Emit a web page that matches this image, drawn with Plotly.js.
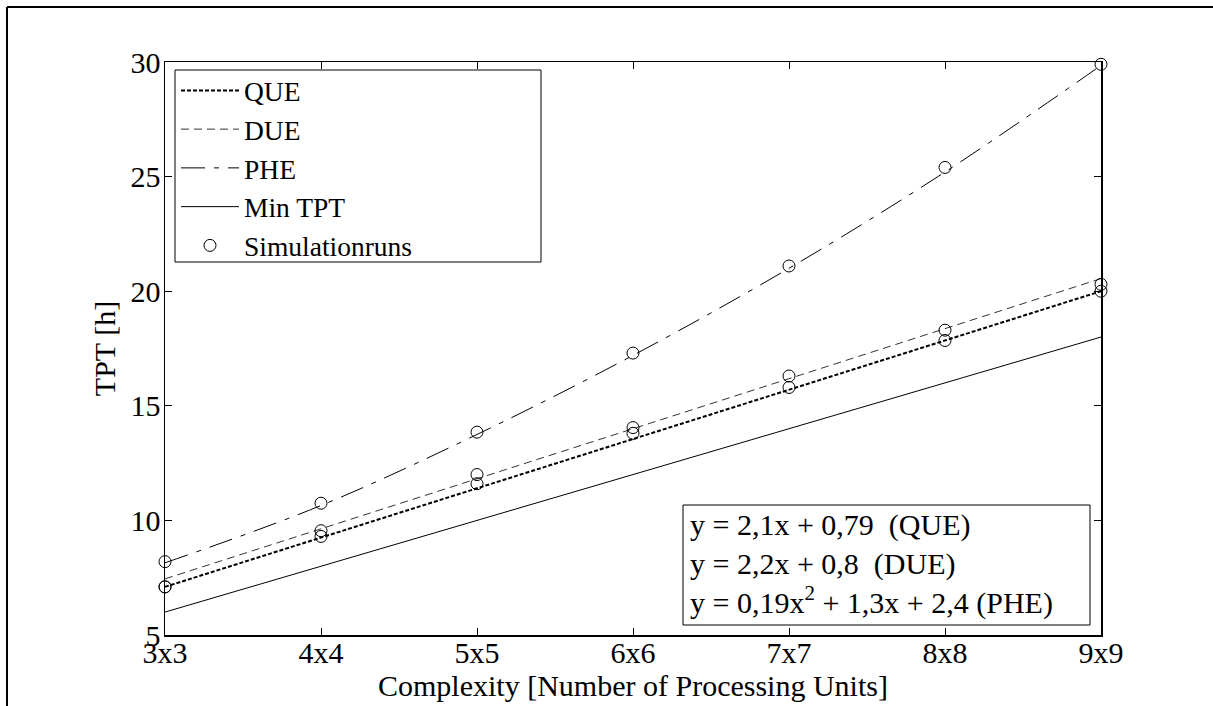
<!DOCTYPE html>
<html>
<head>
<meta charset="utf-8">
<script src="https://cdn.plot.ly/plotly-3.0.1.min.js"></script>
<style>
  html, body { margin:0; padding:0; background:#fff; overflow:hidden; }
  #chart { position:absolute; left:0; top:0; width:1213px; height:706px; }
</style>
</head>
<body>
<div id="chart"></div>
<script>
// categories (x = grid size n for n x n)
const xVals = [3, 4, 5, 6, 7, 8, 9];
const xLabels = ["3x3", "4x4", "5x5", "6x6", "7x7", "8x8", "9x9"];

// simulation run results
const queRuns = [7.1, 9.3, 11.6, 13.8, 15.8, 17.85, 20.0];
const dueRuns = [7.1, 9.55, 12.0, 14.05, 16.3, 18.3, 20.3];
const pheRuns = [8.2, 10.75, 13.85, 17.3, 21.1, 25.4, 29.9];

// fitted curves
const queFitX = [3, 9];
const queFit = [7.1, 20.0];
const dueFitX = [3, 9];
const dueFit = [7.45, 20.55];
const pheFit = [8.15, 10.65, 13.75, 17.2, 21.0, 25.2, 29.85];
const minX = [3, 9];
const minTPT = [6.0, 18.0];

const equations = [
  "y = 2,1x + 0,79  (QUE)",
  "y = 2,2x + 0,8  (DUE)",
  "y = 0,19x<sup>2</sup> + 1,3x + 2,4 (PHE)"
];

const FONT = "Liberation Serif, Times New Roman, serif";

const markerStyle = { symbol: "circle-open", size: 12, color: "#000", line: { width: 1, color: "#000" } };

const traces = [
  { x: queFitX, y: queFit, mode: "lines", name: "QUE",
    line: { color: "#000", width: 2, dash: "4px,2px" } },
  { x: dueFitX, y: dueFit, mode: "lines", name: "DUE",
    line: { color: "#333", width: 1, dash: "8px,5px" } },
  { x: xVals, y: pheFit, mode: "lines", name: "PHE",
    line: { color: "#000", width: 1, dash: "24px,9px,5px,9px", shape: "spline" } },
  { x: minX, y: minTPT, mode: "lines", name: "Min TPT",
    line: { color: "#000", width: 1 } },
  { x: xVals, y: queRuns, mode: "markers", name: "Simulationruns", legendgroup: "sim",
    marker: markerStyle, cliponaxis: false },
  { x: xVals, y: dueRuns, mode: "markers", name: "Simulationruns", legendgroup: "sim", showlegend: false,
    marker: markerStyle, cliponaxis: false },
  { x: xVals, y: pheRuns, mode: "markers", name: "Simulationruns", legendgroup: "sim", showlegend: false,
    marker: markerStyle, cliponaxis: false }
];

const axisCommon = {
  showline: true, linecolor: "#000", linewidth: 1.5, mirror: "ticks",
  ticks: "inside", ticklen: 7, tickcolor: "#000", tickwidth: 1,
  showgrid: false, zeroline: false,
  tickfont: { family: FONT, size: 30, color: "#000" }
};

// plot area in pixels: left 165, right 1101, top 62, bottom 635
const W = 936, H = 573, L = 165, B = 635;
const px = v => (v - L) / W;
const py = v => (B - v) / H;

const layout = {
  width: 1213, height: 706,
  margin: { l: 165, r: 112, t: 62, b: 71 },
  paper_bgcolor: "#fff", plot_bgcolor: "#fff",
  font: { family: FONT, size: 30, color: "#000" },
  showlegend: true,
  xaxis: Object.assign({}, axisCommon, {
    range: [3, 9], tickvals: xVals, ticktext: xLabels,
    ticklabelstandoff: -10,
    title: { text: "Complexity [Number of Processing Units]", font: { family: FONT, size: 30 }, standoff: 0 }
  }),
  yaxis: Object.assign({}, axisCommon, {
    range: [5, 30], tickvals: [5, 10, 15, 20, 25, 30],
    ticklabelstandoff: -3,
    title: { text: "TPT [h]", font: { family: FONT, size: 30 }, standoff: 6 }
  }),
  legend: {
    x: px(176), y: py(66), xanchor: "left", yanchor: "top",
    bgcolor: "rgba(0,0,0,0)", borderwidth: 0,
    font: { family: FONT, size: 27.5, color: "#000" },
    itemwidth: 58, tracegroupgap: 0
  },
  shapes: [
    // outer figure frame (left and top edges visible)
    { type: "line", xref: "paper", yref: "paper", x0: px(7), x1: px(1213), y0: py(7), y1: py(7),
      line: { color: "#000", width: 2 }, layer: "above" },
    { type: "line", xref: "paper", yref: "paper", x0: px(7), x1: px(7), y0: py(7), y1: py(706),
      line: { color: "#000", width: 2 }, layer: "above" },
    // legend box
    { type: "rect", xref: "paper", yref: "paper", x0: px(175), x1: px(541), y0: py(262), y1: py(70),
      line: { color: "#000", width: 1 }, fillcolor: "#fff", layer: "below" },
    // equation box
    { type: "rect", xref: "paper", yref: "paper", x0: px(683), x1: px(1090), y0: py(625), y1: py(505),
      line: { color: "#000", width: 1 }, fillcolor: "#fff", layer: "below" }
  ],
  annotations: [{
    xref: "paper", yref: "paper",
    x: px(688), y: py(622), xanchor: "left", yanchor: "bottom",
    text: equations.join("<br>"), align: "left", showarrow: false,
    font: { family: FONT, size: 30, color: "#000" }
  }]
};

Plotly.newPlot("chart", traces, layout, { displayModeBar: false, staticPlot: true });
</script>
</body>
</html>
